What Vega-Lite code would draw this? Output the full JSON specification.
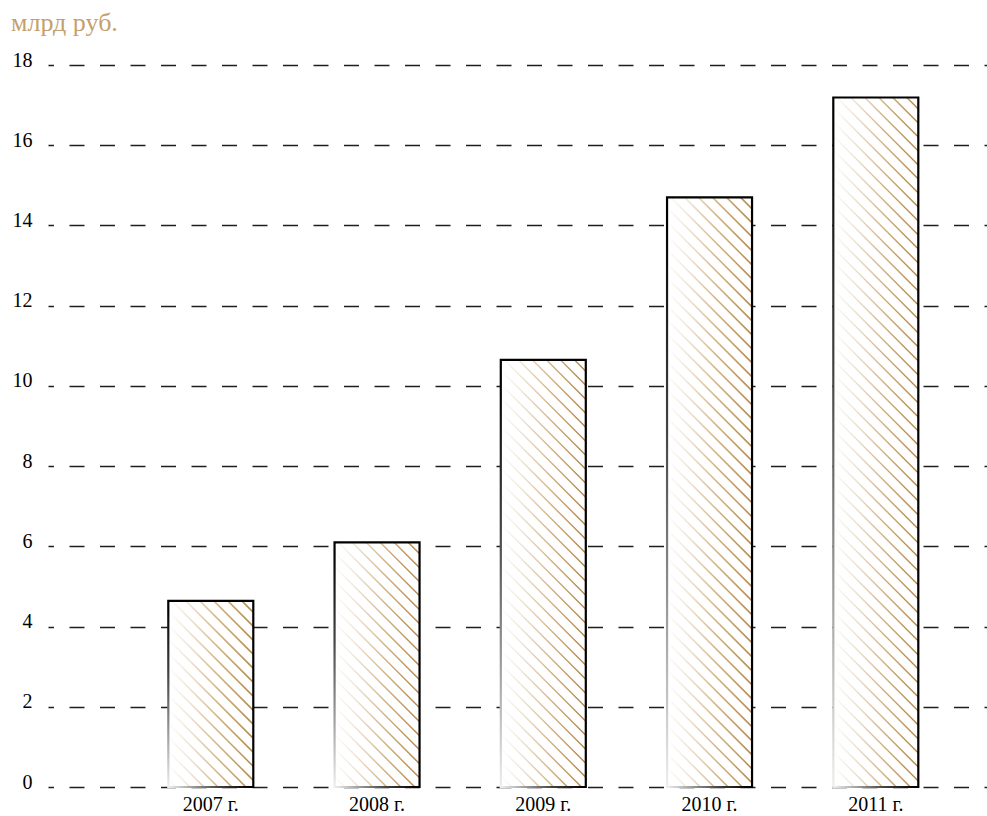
{
  "$schema": "https://vega.github.io/schema/vega-lite/v6.json",
  "width": 939,
  "height": 722,
  "autosize": {"type": "none"},
  "padding": {"left": 48, "top": 65, "right": 0, "bottom": 29},
  "background": "white",
  "title": {
    "text": "млрд руб.",
    "anchor": "start",
    "frame": "group",
    "orient": "top",
    "baseline": "alphabetic",
    "offset": 23,
    "dx": -37,
    "dy": 30,
    "font": "Liberation Serif",
    "fontSize": 26,
    "fontWeight": "normal",
    "color": "#c4a06c"
  },
  "data": {
    "values": [
      {"year": "2007 г.", "value": 4.64},
      {"year": "2008 г.", "value": 6.10},
      {"year": "2009 г.", "value": 10.65},
      {"year": "2010 г.", "value": 14.70},
      {"year": "2011 г.", "value": 17.19}
    ]
  },
  "encoding": {
    "x": {
      "field": "year",
      "type": "nominal",
      "sort": null,
      "scale": {"type": "band", "paddingInner": 0.4887, "paddingOuter": 0.5684, "align": 0.6365},
      "axis": {
        "title": null,
        "domain": false,
        "ticks": false,
        "tickSize": 0,
        "grid": false,
        "labelAngle": 0,
        "labelPadding": 7,
        "labelFont": "Liberation Serif",
        "labelFontSize": 20,
        "labelColor": "#000000"
      }
    },
    "y": {
      "field": "value",
      "type": "quantitative",
      "scale": {"domain": [0, 18], "nice": false},
      "axis": {
        "title": null,
        "values": [0, 2, 4, 6, 8, 10, 12, 14, 16, 18],
        "domain": false,
        "ticks": false,
        "tickSize": 0,
        "labelPadding": 16,
        "labelBaseline": "alphabetic",
        "labelOffset": 1,
        "labelFont": "Liberation Serif",
        "labelFontSize": 20,
        "labelColor": "#000000",
        "grid": true,
        "gridColor": "#1e1e1e",
        "gridWidth": 1.7,
        "gridDash": [15, 15.5],
        "gridDashOffset": 9.5
      }
    }
  },
  "layer": [
    {
      "mark": {"type": "bar", "fill": "#ffffff", "strokeWidth": 0}
    },
    {
      "mark": {
        "type": "point",
        "shape": "M31,0l11.5,11.5M17,0l25.5,25.5M3,0l39.5,39.5M-11,0l53.5,53.5M-25,0l67.5,67.5M-39,0l81.5,81.5M-42.5,10.5l85,85M-42.5,24.5l85,85M-42.5,38.5l85,85M-42.5,52.5l85,85M-42.5,66.5l85,85M-42.5,80.5l85,85M-42.5,94.5l85,85M-42.5,108.5l85,85M-42.5,122.5l85,85M-42.5,136.5l85,85M-42.5,150.5l85,85M-42.5,164.5l85,85M-42.5,178.5l85,85M-42.5,192.5l85,85M-42.5,206.5l85,85M-42.5,220.5l85,85M-42.5,234.5l85,85M-42.5,248.5l85,85M-42.5,262.5l85,85M-42.5,276.5l85,85M-42.5,290.5l85,85M-42.5,304.5l85,85M-42.5,318.5l85,85M-42.5,332.5l85,85M-42.5,346.5l85,85M-42.5,360.5l85,85M-42.5,374.5l85,85M-42.5,388.5l85,85M-42.5,402.5l85,85M-42.5,416.5l85,85M-42.5,430.5l85,85M-42.5,444.5l85,85M-42.5,458.5l85,85M-42.5,472.5l85,85M-42.5,486.5l85,85M-42.5,500.5l85,85M-42.5,514.5l85,85M-42.5,528.5l85,85M-42.5,542.5l85,85M-42.5,556.5l85,85M-42.5,570.5l85,85M-42.5,584.5l85,85M-42.5,598.5l85,85M-42.5,612.5l85,85M-42.5,626.5l85,85M-42.5,640.5l85,85M-42.5,654.5l85,85M-42.5,668.5l85,85M-42.5,682.5l85,85",
        "size": 4,
        "filled": false,
        "opacity": 1,
        "strokeWidth": 1.5,
        "clip": true,
        "stroke": {
          "gradient": "linear",
          "x1": 0, "y1": 0, "x2": 1, "y2": 0,
          "stops": [
            {"offset": 0, "color": "#ffffff"},
            {"offset": 0.25, "color": "#eee4d4"},
            {"offset": 0.6, "color": "#d2b283"},
            {"offset": 1, "color": "#b3874a"}
          ]
        }
      }
    },
    {
      "mark": {
        "type": "bar",
        "fillOpacity": 0,
        "strokeWidth": 2.2,
        "stroke": {
          "gradient": "linear",
          "x1": 0, "y1": 1, "x2": 0.6, "y2": 0.4,
          "stops": [
            {"offset": 0, "color": "#eeeeee"},
            {"offset": 0.5, "color": "#444444"},
            {"offset": 0.8, "color": "#000000"}
          ]
        }
      }
    }
  ],
  "config": {"view": {"stroke": null}}
}
